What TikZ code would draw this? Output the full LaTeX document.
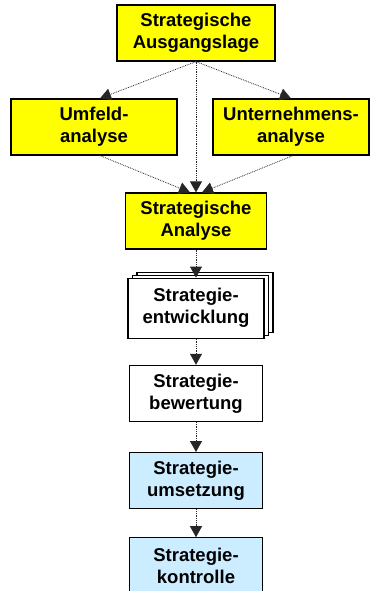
\documentclass[tikz,border=0pt]{standalone}
\usepackage{fontspec}
\setmainfont{Liberation Sans}
\usepackage[]{xcolor}
\usetikzlibrary{positioning,arrows.meta,shadows}
\definecolor{stageyellow}{HTML}{FFFF00}
\definecolor{stageblue}{HTML}{CCECFF}

\begin{document}
\begin{tikzpicture}[
            x=1pt, y=1pt,
            node distance=28pt,
            stage/.style={rectangle, draw, line width=1.2pt, minimum height=56pt, inner sep=0pt, align=center, font=\bfseries\fontsize{18.5}{22}\selectfont},
            yellowstage/.style={stage, fill=stageyellow},
            whitestage/.style={stage, fill=white},
            bluestage/.style={stage, fill=stageblue},
            arrow/.style={-{Triangle[width=12pt,length=11pt]}, densely dotted, line width=0.8pt, black!85}
        ]
            \useasboundingbox (0,0) rectangle (371,-591);
            \node[yellowstage, minimum width=158pt] (lage) at (196,-33) {Strategische\\Ausgangslage};
            \node[yellowstage, minimum width=166pt] (umfeld) at (94,-127) {Umfeld-\\analyse};
            \node[yellowstage, minimum width=156pt] (unternehmen) at (291,-127) {Unternehmens-\\analyse};
            \node[yellowstage, minimum width=141pt] (analyse) at (196,-221) {Strategische\\Analyse};
            \node[whitestage, minimum width=136pt, minimum height=60pt, double copy shadow={shadow xshift=4.5pt, shadow yshift=3pt}, below=28pt of analyse] (entwicklung) {Strategie-\\entwicklung};
            \node[whitestage, minimum width=133pt, below=26pt of entwicklung] (bewertung) {Strategie-\\bewertung};
            \node[bluestage, minimum width=133pt, below=30pt of bewertung] (umsetzung) {Strategie-\\umsetzung};
            \node[bluestage, minimum width=133pt, below=28pt of umsetzung] (kontrolle) {Strategie-\\kontrolle};

            \draw[arrow] (lage.south) -- ([xshift=6pt]umfeld.north);
            \draw[arrow] (lage.south) -- (unternehmen.north);
            \draw[arrow] (lage.south) -- (analyse.north);
            \draw[arrow] ([xshift=6pt]umfeld.south) -- ([xshift=-6pt]analyse.north);
            \draw[arrow] ([xshift=2pt]unternehmen.south) -- ([xshift=6pt]analyse.north);
            \draw[arrow] (analyse) -- (entwicklung);
            \draw[arrow] (entwicklung) -- (bewertung);
            \draw[arrow] (bewertung) -- (umsetzung);
            \draw[arrow] (umsetzung) -- (kontrolle);
        \end{tikzpicture}
\end{document}
